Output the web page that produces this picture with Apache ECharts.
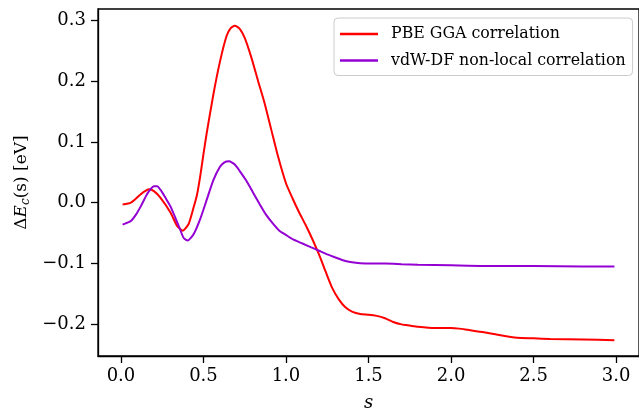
<!DOCTYPE html>
<html>
<head>
<meta charset="utf-8">
<script src="https://cdn.jsdelivr.net/npm/echarts@6/dist/echarts.min.js"></script>
<style>
  html, body { margin: 0; padding: 0; background: #fff; }
  #chart { width: 639px; height: 417px; }
</style>
</head>
<body>
<div id="chart"></div>
<script>
// PBE GGA correlation
const pbeS = [0.01, 0.06, 0.12, 0.17, 0.2, 0.24, 0.3, 0.34, 0.375, 0.41, 0.44, 0.46, 0.48, 0.5, 0.52, 0.56, 0.6, 0.64, 0.665, 0.69, 0.72, 0.75, 0.79, 0.83, 0.87, 0.91, 0.95, 1.0, 1.04, 1.08, 1.12, 1.16, 1.2, 1.24, 1.28, 1.32, 1.36, 1.4, 1.45, 1.5, 1.55, 1.6, 1.65, 1.7, 1.75, 1.8, 1.9, 2.0, 2.05, 2.1, 2.2, 2.3, 2.4, 2.5, 2.6, 2.8, 2.99];
const pbeE = [-0.003, 0.0, 0.014, 0.022, 0.019, 0.008, -0.016, -0.038, -0.046, -0.035, -0.008, 0.012, 0.043, 0.08, 0.115, 0.178, 0.232, 0.274, 0.287, 0.291, 0.286, 0.271, 0.239, 0.201, 0.164, 0.121, 0.078, 0.032, 0.007, -0.016, -0.037, -0.06, -0.085, -0.113, -0.14, -0.159, -0.172, -0.179, -0.183, -0.184, -0.186, -0.19, -0.196, -0.2, -0.202, -0.204, -0.206, -0.206, -0.207, -0.209, -0.213, -0.218, -0.222, -0.223, -0.224, -0.225, -0.226];

// vdW-DF non-local correlation
const vdwS = [0.01, 0.06, 0.09, 0.12, 0.15, 0.17, 0.2, 0.22, 0.24, 0.27, 0.3, 0.35, 0.38, 0.405, 0.44, 0.48, 0.52, 0.56, 0.6, 0.625, 0.655, 0.69, 0.72, 0.76, 0.8, 0.84, 0.88, 0.92, 0.96, 1.0, 1.04, 1.1, 1.15, 1.2, 1.25, 1.3, 1.35, 1.4, 1.45, 1.5, 1.6, 1.7, 1.8, 2.0, 2.2, 2.5, 2.8, 2.99];
const vdwE = [-0.036, -0.03, -0.02, -0.006, 0.01, 0.019, 0.027, 0.027, 0.021, 0.008, -0.006, -0.038, -0.058, -0.062, -0.052, -0.027, 0.005, 0.037, 0.059, 0.066, 0.068, 0.063, 0.052, 0.036, 0.017, -0.002, -0.02, -0.034, -0.046, -0.053, -0.06, -0.067, -0.073, -0.079, -0.085, -0.09, -0.095, -0.098, -0.0995, -0.0998, -0.1, -0.101, -0.102, -0.103, -0.104, -0.104, -0.105, -0.105];

const xTicks = [0, 0.5, 1.0, 1.5, 2.0, 2.5, 3.0];
const yTicks = [-0.2, -0.1, 0.0, 0.1, 0.2, 0.3];

const fontFam = "DejaVu Serif";
const fmt = (v) => {
  const s = Math.abs(v).toFixed(1);
  return v < -1e-9 ? "\u2212" + s : s;
};

var myChart = echarts.init(document.getElementById("chart"));

var option = {
  animation: false,
  backgroundColor: "#fff",
  grid: {
    left: 98,
    top: 9,
    right: -4,
    bottom: 54,
    show: true,
    borderColor: "#000",
    borderWidth: 1.3,
  },
  legend: {
    left: 334,
    top: 18,
    orient: "vertical",
    selectedMode: false,
    icon: "rect",
    itemWidth: 38,
    itemHeight: 2.5,
    itemGap: 10.5,
    padding: [8, 7, 7, 6],
    borderColor: "#cccccc",
    borderWidth: 1,
    borderRadius: 4,
    backgroundColor: "rgba(255,255,255,0.8)",
    textStyle: {
      fontFamily: fontFam,
      fontSize: 15.8,
      color: "#000",
      padding: [0, 0, 0, 8],
    },
    data: ["PBE GGA correlation", "vdW-DF non-local correlation"],
  },
  xAxis: {
    type: "value",
    min: -0.139,
    max: 3.139,
    name: "s",
    nameLocation: "middle",
    nameGap: 38,
    nameTextStyle: {
      fontFamily: fontFam,
      fontStyle: "italic",
      fontSize: 18,
      color: "#000",
    },
    axisLine: { show: true, onZero: false, lineStyle: { color: "#000", width: 1.3 } },
    axisTick: {
      show: true,
      inside: false,
      length: 7,
      customValues: xTicks,
      lineStyle: { color: "#000", width: 1.3 },
    },
    axisLabel: {
      customValues: xTicks,
      formatter: fmt,
      margin: 11,
      fontFamily: fontFam,
      fontSize: 18,
      color: "#000",
    },
    splitLine: { show: false },
  },
  yAxis: {
    type: "value",
    min: -0.252,
    max: 0.3185,
    name: "{d|\u0394}{i|E}{sub|c}{d|(s) [eV]}",
    nameLocation: "middle",
    nameGap: 64,
    nameRotate: 90,
    nameTextStyle: {
      fontFamily: fontFam,
      fontSize: 17,
      color: "#000",
      rich: {
        d: { fontFamily: fontFam, fontSize: 17, color: "#000" },
        i: { fontFamily: fontFam, fontSize: 17, fontStyle: "italic", color: "#000" },
        sub: {
          fontFamily: fontFam,
          fontSize: 12,
          fontStyle: "italic",
          color: "#000",
          verticalAlign: "bottom",
          padding: [8, 0, 0, 0],
        },
      },
    },
    axisLine: { show: true, onZero: false, lineStyle: { color: "#000", width: 1.3 } },
    axisTick: {
      show: true,
      inside: false,
      length: 7,
      customValues: yTicks,
      lineStyle: { color: "#000", width: 1.3 },
    },
    axisLabel: {
      customValues: yTicks,
      formatter: fmt,
      margin: 12,
      fontFamily: fontFam,
      fontSize: 18,
      color: "#000",
    },
    splitLine: { show: false },
  },
  series: [
    {
      name: "PBE GGA correlation",
      type: "line",
      smooth: 0.2,
      showSymbol: false,
      color: "#ff0000",
      lineStyle: { width: 2, color: "#ff0000" },
      data: pbeS.map((s, i) => [s, pbeE[i]]),
    },
    {
      name: "vdW-DF non-local correlation",
      type: "line",
      smooth: 0.2,
      showSymbol: false,
      color: "#9400d3",
      lineStyle: { width: 2, color: "#9400d3" },
      data: vdwS.map((s, i) => [s, vdwE[i]]),
    },
  ],
};

myChart.setOption(option);
</script>
</body>
</html>
